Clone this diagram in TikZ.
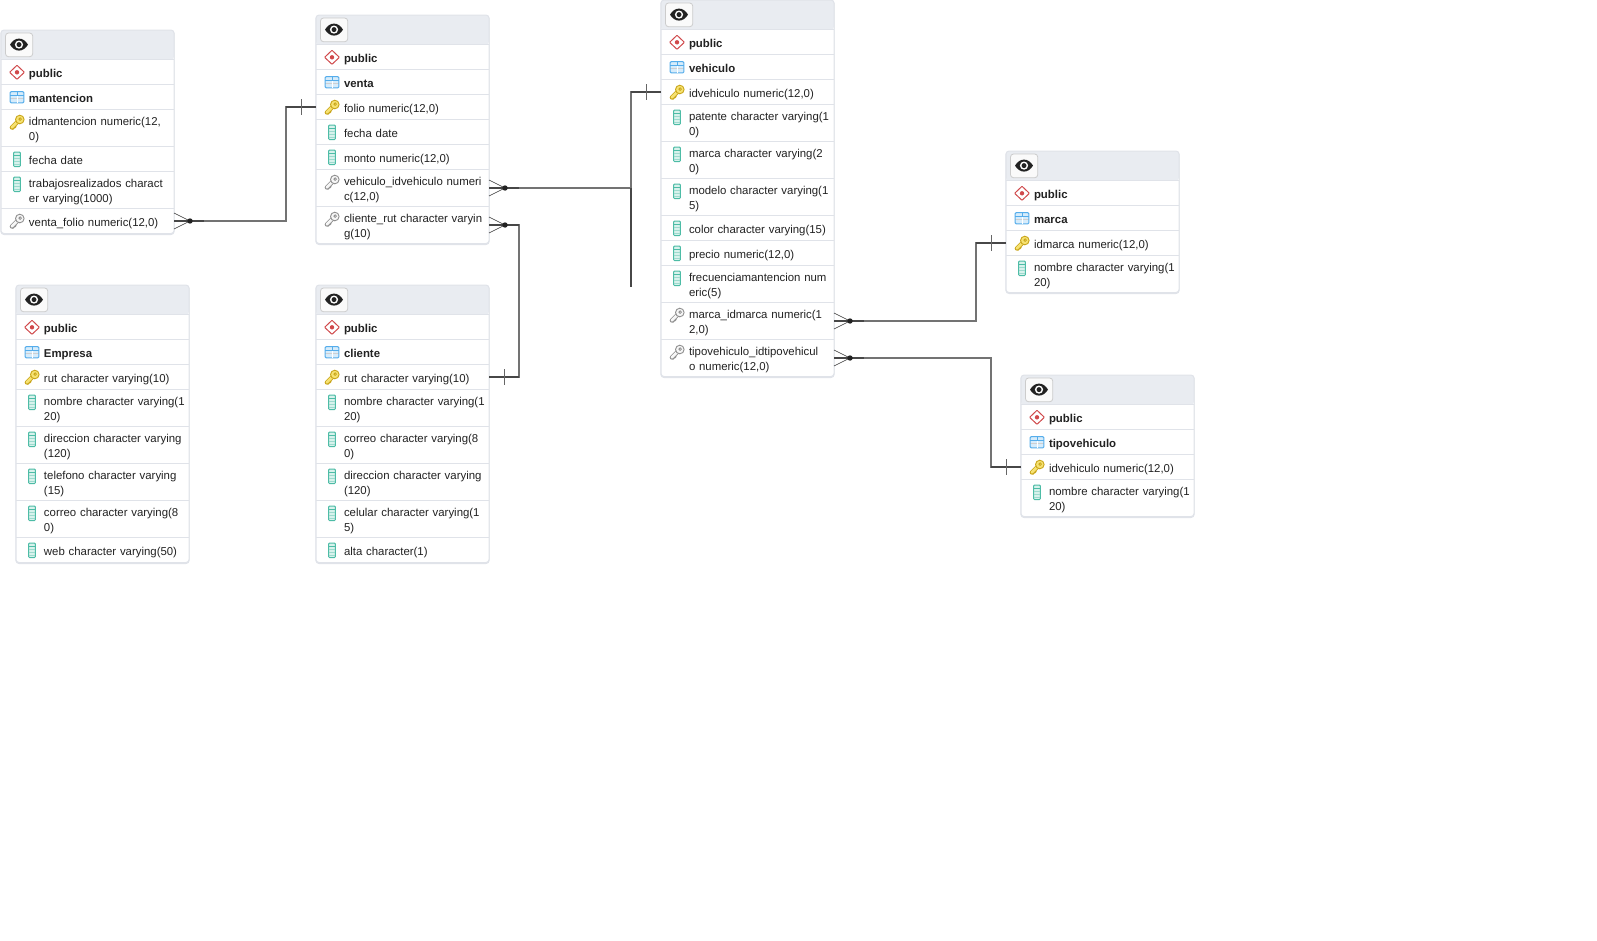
\documentclass[tikz,border=0pt]{standalone}
\usepackage{fontspec}
\setmainfont{Liberation Sans}
\usepackage{xcolor}
\usetikzlibrary{arrows.meta,positioning,fit,backgrounds,calc}
\definecolor{headfill}{HTML}{E9ECF1}
\definecolor{gridline}{HTML}{E0E3E9}
\definecolor{inktext}{HTML}{222222}
\definecolor{keyedge}{HTML}{C9A51A}
\definecolor{keyfill}{HTML}{F6E272}
\definecolor{fkedge}{HTML}{8F8F8F}
\definecolor{fkfill}{HTML}{F6F6F6}
\definecolor{coledge}{HTML}{4DBCA6}
\definecolor{colfill}{HTML}{D8F2EC}
\definecolor{tabedge}{HTML}{55ADEB}
\definecolor{tabfill}{HTML}{D6ECFB}
\definecolor{schemaedge}{HTML}{D0494B}

\tikzset{
    pics/eyeicon/.style={code={
        \fill[inktext] (-9,0) .. controls (-4.2,-8) and (4.2,-8) .. (9,0) .. controls (4.2,8) and (-4.2,8) .. cycle;
        \fill[white] (0,0) circle (4.1);
        \fill[inktext] (0,0) circle (2.5);
    }},
    pics/keyicon/.style 2 args={code={
        \draw[#1,line width=4.2,line cap=round] (1,-1) -- (-5.2,5.2);
        \draw[#1,line width=2.4] (-3.2,3.2) -- (-1.2,5.2) (-5,5) -- (-3.2,6.8);
        \draw[#2,line width=2.6,line cap=round] (1,-1) -- (-5.2,5.2);
        \draw[#1,fill=#2,line width=0.9] (2.8,-2.8) circle (4.3);
        \draw[#1,line width=0.8] (3.2,-3.2) circle (1.3);
    }},
    pics/columnicon/.style={code={
        \draw[coledge,fill=colfill,line width=1,rounded corners=1pt] (-3.4,-7.3) rectangle (3.4,7.3);
        \draw[coledge,line width=1] (-3.4,-3.6) -- (3.4,-3.6);
        \draw[coledge!55,line width=0.6] (-3.4,-0.6) -- (3.4,-0.6) (-3.4,2.2) -- (3.4,2.2) (-3.4,5) -- (3.4,5);
    }},
    pics/tableicon/.style={code={
        \fill[tabfill] (-6.8,-5.6) rectangle (6.8,5.6);
        \fill[gridline!70!black!50] (-6.8,0.8) rectangle (6.8,2);
        \draw[tabedge,line width=1,rounded corners=1pt] (-6.8,-5.6) rectangle (6.8,5.6);
        \draw[tabedge,line width=0.9] (-6.8,-1.6) -- (6.8,-1.6) (0,-5.6) -- (0,-1.6);
        \draw[white,line width=0.8] (0,-1.2) -- (0,5.2);
    }},
    pics/schemaicon/.style={code={
        \draw[schemaedge,fill=white,line width=1,rounded corners=0.6pt] (-7.4,0) -- (0,-7) -- (7.4,0) -- (0,7) -- cycle;
        \fill[schemaedge] (0,0) circle (2.2);
    }},
    pics/crowfoot/.style={code={
        \draw[darkline] (0,0) -- (30,0);
        \draw[footline] (0,-8) -- (16,0) -- (0,8);
        \fill[inktext] (16,0) circle (2.7);
    }},
    pics/onetick/.style={code={
        \draw[darkline] (0,0) -- (-30,0);
        \draw[tickline] (-15,-8) -- (-15,8);
    }}
}

\begin{document}
\begin{tikzpicture}[
    x=1pt,y=-1pt,
    node distance=0pt,
    head/.style={rectangle,anchor=north west,minimum width=173pt,minimum height=29.5pt,outer sep=0pt,inner sep=0pt,
        path picture={
            \draw[draw=black!20,fill=white!98!black,rounded corners=3pt,line width=0.8] ($(path picture bounding box.north west)+(4.5,3)$) rectangle ++(27.2,23.7);
            \pic at ($(path picture bounding box.north west)+(18,14.6)$) {eyeicon};
        }},
    row/.style={rectangle,minimum width=173pt,minimum height=25pt,outer sep=0pt,inner xsep=0pt,inner ysep=0pt,
        text width=173pt,align=left,font=\fontsize{11.4}{15.3}\selectfont,text=inktext,
        execute at begin node={\leftskip=28pt\rule{0pt}{14pt}},
        execute at end node={\rule[-3.6pt]{0pt}{3.6pt}},
        path picture={
            \draw[gridline,line width=1.8] (path picture bounding box.north west) -- (path picture bounding box.north east);
            \pic at ($(path picture bounding box.north west)+(16,12.8)$) {#1};
        }},
    tall/.style={minimum height=37pt},
    schemarow/.style={row=schemaicon,font=\fontsize{11.4}{15.3}\selectfont\bfseries},
    tablerow/.style={row=tableicon,font=\fontsize{11.4}{15.3}\selectfont\bfseries},
    keyrow/.style={row={keyicon={keyedge}{keyfill}}},
    fkrow/.style={row={keyicon={fkedge}{fkfill}}},
    fieldrow/.style={row=columnicon},
    frame/.style={rectangle,draw=gridline,line width=1,fill=white,rounded corners=3pt,inner sep=0pt,
        preaction={draw=gridline,line width=1.4,transform canvas={yshift=-0.8pt}},
        path picture={\fill[headfill] (path picture bounding box.north west) rectangle ++(173,29.5);}},
    midline/.style={line width=1.5,black!55},
    darkline/.style={line width=1.5,black!72},
    footline/.style={line width=0.6,black!80},
    tickline/.style={line width=1,black!60}
]
\useasboundingbox (0,0) rectangle (1597,940);

\node[head] (mantencion_head) at (1,30) {};
\node[schemarow,below=of mantencion_head] (mantencion_schema) {public};
\node[tablerow,below=of mantencion_schema] (mantencion_table) {mantencion};
\node[keyrow,tall,below=of mantencion_table] (mantencion_id) {idmantencion numeric(12,\\0)};
\node[fieldrow,below=of mantencion_id] (mantencion_fecha) {fecha date};
\node[fieldrow,tall,below=of mantencion_fecha] (mantencion_trabajos) {trabajosrealizados charact\\er varying(1000)};
\node[fkrow,below=of mantencion_trabajos] (mantencion_folio) {venta\_folio numeric(12,0)};

\node[head] (venta_head) at (316,15) {};
\node[schemarow,below=of venta_head] (venta_schema) {public};
\node[tablerow,below=of venta_schema] (venta_table) {venta};
\node[keyrow,below=of venta_table] (venta_folio) {folio numeric(12,0)};
\node[fieldrow,below=of venta_folio] (venta_fecha) {fecha date};
\node[fieldrow,below=of venta_fecha] (venta_monto) {monto numeric(12,0)};
\node[fkrow,tall,below=of venta_monto] (venta_vehiculo) {vehiculo\_idvehiculo numeri\\c(12,0)};
\node[fkrow,tall,below=of venta_vehiculo] (venta_cliente) {cliente\_rut character varyin\\g(10)};

\node[head] (vehiculo_head) at (661,0) {};
\node[schemarow,below=of vehiculo_head] (vehiculo_schema) {public};
\node[tablerow,below=of vehiculo_schema] (vehiculo_table) {vehiculo};
\node[keyrow,below=of vehiculo_table] (vehiculo_id) {idvehiculo numeric(12,0)};
\node[fieldrow,tall,below=of vehiculo_id] (vehiculo_patente) {patente character varying(1\\0)};
\node[fieldrow,tall,below=of vehiculo_patente] (vehiculo_marca) {marca character varying(2\\0)};
\node[fieldrow,tall,below=of vehiculo_marca] (vehiculo_modelo) {modelo character varying(1\\5)};
\node[fieldrow,below=of vehiculo_modelo] (vehiculo_color) {color character varying(15)};
\node[fieldrow,below=of vehiculo_color] (vehiculo_precio) {precio numeric(12,0)};
\node[fieldrow,tall,below=of vehiculo_precio] (vehiculo_frecuencia) {frecuenciamantencion num\\eric(5)};
\node[fkrow,tall,below=of vehiculo_frecuencia] (vehiculo_idmarca) {marca\_idmarca numeric(1\\2,0)};
\node[fkrow,tall,below=of vehiculo_idmarca] (vehiculo_idtipo) {tipovehiculo\_idtipovehicul\\o numeric(12,0)};

\node[head] (marca_head) at (1006,151) {};
\node[schemarow,below=of marca_head] (marca_schema) {public};
\node[tablerow,below=of marca_schema] (marca_table) {marca};
\node[keyrow,below=of marca_table] (marca_id) {idmarca numeric(12,0)};
\node[fieldrow,tall,below=of marca_id] (marca_nombre) {nombre character varying(1\\20)};

\node[head] (tipo_head) at (1021,375) {};
\node[schemarow,below=of tipo_head] (tipo_schema) {public};
\node[tablerow,below=of tipo_schema] (tipo_table) {tipovehiculo};
\node[keyrow,below=of tipo_table] (tipo_id) {idvehiculo numeric(12,0)};
\node[fieldrow,tall,below=of tipo_id] (tipo_nombre) {nombre character varying(1\\20)};

\node[head] (empresa_head) at (16,285) {};
\node[schemarow,below=of empresa_head] (empresa_schema) {public};
\node[tablerow,below=of empresa_schema] (empresa_table) {Empresa};
\node[keyrow,below=of empresa_table] (empresa_rut) {rut character varying(10)};
\node[fieldrow,tall,below=of empresa_rut] (empresa_nombre) {nombre character varying(1\\20)};
\node[fieldrow,tall,below=of empresa_nombre] (empresa_direccion) {direccion character varying\\(120)};
\node[fieldrow,tall,below=of empresa_direccion] (empresa_telefono) {telefono character varying\\(15)};
\node[fieldrow,tall,below=of empresa_telefono] (empresa_correo) {correo character varying(8\\0)};
\node[fieldrow,below=of empresa_correo] (empresa_web) {web character varying(50)};

\node[head] (cliente_head) at (316,285) {};
\node[schemarow,below=of cliente_head] (cliente_schema) {public};
\node[tablerow,below=of cliente_schema] (cliente_table) {cliente};
\node[keyrow,below=of cliente_table] (cliente_rut) {rut character varying(10)};
\node[fieldrow,tall,below=of cliente_rut] (cliente_nombre) {nombre character varying(1\\20)};
\node[fieldrow,tall,below=of cliente_nombre] (cliente_correo) {correo character varying(8\\0)};
\node[fieldrow,tall,below=of cliente_correo] (cliente_direccion) {direccion character varying\\(120)};
\node[fieldrow,tall,below=of cliente_direccion] (cliente_celular) {celular character varying(1\\5)};
\node[fieldrow,below=of cliente_celular] (cliente_alta) {alta character(1)};

\begin{scope}[on background layer]
\node[frame,fit=(mantencion_head)(mantencion_folio)] (mantencion_frame) {};
\node[frame,fit=(venta_head)(venta_cliente)] (venta_frame) {};
\node[frame,fit=(vehiculo_head)(vehiculo_idtipo)] (vehiculo_frame) {};
\node[frame,fit=(marca_head)(marca_nombre)] (marca_frame) {};
\node[frame,fit=(tipo_head)(tipo_nombre)] (tipo_frame) {};
\node[frame,fit=(empresa_head)(empresa_web)] (empresa_frame) {};
\node[frame,fit=(cliente_head)(cliente_alta)] (cliente_frame) {};
\end{scope}

\coordinate (vehiculo_stub) at (631,287);

\draw[midline] (mantencion_folio.east) -- ++(112,0) |- (venta_folio.west);
\draw[midline] (venta_vehiculo.east) -- ++(142,0) |- (vehiculo_id.west);
\draw[darkline] (venta_vehiculo.east -| vehiculo_stub) -- (vehiculo_stub);
\draw[midline] (venta_cliente.east) -- ++(30,0) |- (cliente_rut.east);
\draw[midline] (vehiculo_idmarca.east) -- ++(142,0) |- (marca_id.west);
\draw[midline] (vehiculo_idtipo.east) -- ++(157,0) |- (tipo_id.west);

\pic at (mantencion_folio.east) {crowfoot};
\pic at (venta_vehiculo.east) {crowfoot};
\pic at (venta_cliente.east) {crowfoot};
\pic at (vehiculo_idmarca.east) {crowfoot};
\pic at (vehiculo_idtipo.east) {crowfoot};
\pic at (venta_folio.west) {onetick};
\pic at (vehiculo_id.west) {onetick};
\pic[xscale=-1] at (cliente_rut.east) {onetick};
\pic at (marca_id.west) {onetick};
\pic at (tipo_id.west) {onetick};
\end{tikzpicture}
\end{document}
